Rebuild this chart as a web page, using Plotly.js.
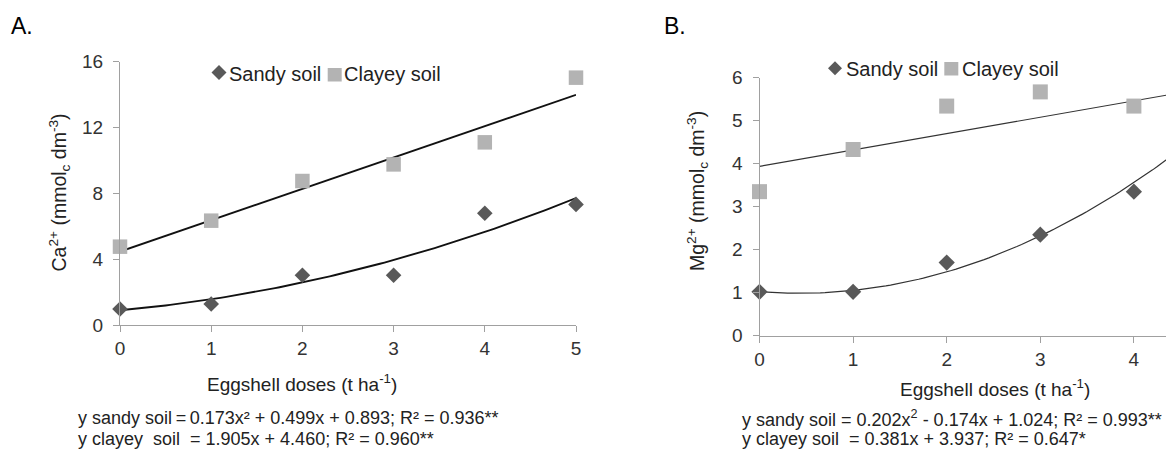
<!DOCTYPE html>
<html>
<head>
<meta charset="utf-8">
<script src="https://cdn.plot.ly/plotly-3.0.1.min.js"></script>
<style>
html,body{margin:0;padding:0;background:#fff;}
#chart{width:1166px;height:449px;}
</style>
</head>
<body>
<div id="chart"></div>
<script>
// ---------------- data ----------------
const dosesA = [0, 1, 2, 3, 4, 5];
const caSandy = [0.97, 1.28, 3.02, 3.02, 6.79, 7.33];
const caClayey = [4.76, 6.34, 8.75, 9.76, 11.10, 15.03];

const dosesB = [0, 1, 2, 3, 4];
const mgSandy = [1.02, 1.02, 1.70, 2.35, 3.35];
const mgClayey = [3.35, 4.33, 5.34, 5.67, 5.34];

// regression coefficients printed under each panel: [a, b, c] for a*x^2 + b*x + c
const fitCaSandy = [0.173, 0.499, 0.893];
const fitCaClayey = [0, 1.905, 4.460];
const fitMgSandy = [0.202, -0.174, 1.024];
const fitMgClayey = [0, 0.381, 3.937];

const ticksA_y = [0, 4, 8, 12, 16];
const ticksA_x = [0, 1, 2, 3, 4, 5];
const ticksB_y = [0, 1, 2, 3, 4, 5, 6];
const ticksB_x = [0, 1, 2, 3, 4, 5];

const seriesNames = ['Sandy soil', 'Clayey soil'];
const xTitle = 'Eggshell doses (t ha<sup>-1</sup>)';
const yTitleA = 'Ca<sup>2+</sup> (mmol<sub>c</sub> dm<sup>-3</sup>)';
const yTitleB = 'Mg<sup>2+</sup> (mmol<sub>c</sub> dm<sup>-3</sup>)';
const eqA = ['y sandy soil\u2009=\u20090.173x² + 0.499x + 0.893; R² = 0.936**',
             'y clayey\u00a0 soil \u00a0= 1.905x + 4.460; R² = 0.960**'];
const eqB = ['y sandy soil = 0.202x<sup>2</sup> - 0.174x + 1.024; R² = 0.993**',
             'y clayey soil \u00a0= 0.381x + 3.937; R² = 0.647*'];

// ---------------- helpers ----------------
const W = 1166, H = 449;
const px = v => v / W;
const py = v => 1 - v / H;
const FONT = '"Liberation Sans", Arial, Helvetica, sans-serif';

function fitCurve(coef, x0, x1, n) {
  const xs = [], ys = [];
  for (let i = 0; i <= n; i++) {
    const x = x0 + (x1 - x0) * i / n;
    xs.push(x);
    ys.push(coef[0] * x * x + coef[1] * x + coef[2]);
  }
  return {x: xs, y: ys};
}

const cDark = '#595959', cLight = '#b3b3b3';

const fA1 = fitCurve(fitCaSandy, 0, 5, 100);
const fA2 = fitCurve(fitCaClayey, 0, 5, 100);
const fB1 = fitCurve(fitMgSandy, 0, 5, 100);
const fB2 = fitCurve(fitMgClayey, 0, 5, 100);

const traces = [
  {x: fA2.x, y: fA2.y, xaxis: 'x', yaxis: 'y', mode: 'lines', line: {color: '#111111', width: 1.9}, showlegend: false, hoverinfo: 'skip'},
  {x: fA1.x, y: fA1.y, xaxis: 'x', yaxis: 'y', mode: 'lines', line: {color: '#111111', width: 1.9}, showlegend: false, hoverinfo: 'skip'},
  {x: dosesA, y: caClayey, xaxis: 'x', yaxis: 'y', mode: 'markers', name: seriesNames[1], cliponaxis: false,
   marker: {symbol: 'square', size: 14.5, color: cLight}, showlegend: false},
  {x: dosesA, y: caSandy, xaxis: 'x', yaxis: 'y', mode: 'markers', name: seriesNames[0], cliponaxis: false,
   marker: {symbol: 'diamond', size: 12, color: cDark}, showlegend: false},

  {x: fB2.x, y: fB2.y, xaxis: 'x2', yaxis: 'y2', mode: 'lines', line: {color: '#333333', width: 1.2}, showlegend: false, hoverinfo: 'skip'},
  {x: fB1.x, y: fB1.y, xaxis: 'x2', yaxis: 'y2', mode: 'lines', line: {color: '#333333', width: 1.2}, showlegend: false, hoverinfo: 'skip'},
  {x: dosesB, y: mgClayey, xaxis: 'x2', yaxis: 'y2', mode: 'markers', name: seriesNames[1], cliponaxis: false,
   marker: {symbol: 'square', size: 15, color: cLight}, showlegend: false},
  {x: dosesB, y: mgSandy, xaxis: 'x2', yaxis: 'y2', mode: 'markers', name: seriesNames[0], cliponaxis: false,
   marker: {symbol: 'diamond', size: 12.5, color: cDark}, showlegend: false}
];

const axisCommon = {
  showgrid: false, zeroline: false, showline: true, linecolor: '#a0a0a0', linewidth: 1,
  ticks: 'outside', ticklen: 6, tickcolor: '#a0a0a0', tickwidth: 1,
  tickfont: {family: FONT, size: 19, color: '#333333'}, fixedrange: true
};

const ann = (text, x, y, size, extra) => Object.assign({
  text: text, x: px(x), y: py(y), xref: 'paper', yref: 'paper',
  xanchor: 'left', yanchor: 'middle', showarrow: false,
  font: {family: FONT, size: size, color: '#222'}
}, extra || {});

const layout = {
  width: W, height: H,
  margin: {l: 0, r: 0, t: 0, b: 0},
  paper_bgcolor: '#ffffff', plot_bgcolor: 'rgba(0,0,0,0)',
  showlegend: false,
  xaxis: Object.assign({}, axisCommon, {
    domain: [px(120), px(576)], range: [0, 5], tickvals: ticksA_x, anchor: 'y'
  }),
  yaxis: Object.assign({}, axisCommon, {
    domain: [py(325), py(61.7)], range: [0, 16], tickvals: ticksA_y, anchor: 'x',
    ticklabelstandoff: 6
  }),
  xaxis2: Object.assign({}, axisCommon, {
    domain: [px(759.5), 1], range: [0, (W - 759.5) / 93.6], tickvals: ticksB_x, anchor: 'y2'
  }),
  yaxis2: Object.assign({}, axisCommon, {
    domain: [py(335.7), py(77.7)], range: [0, 6], tickvals: ticksB_y, anchor: 'x2',
    ticklabelstandoff: 6
  }),
  shapes: [
    // legend symbols
    {type: 'path', xref: 'paper', yref: 'paper', line: {width: 0}, fillcolor: cDark,
     path: `M ${px(211.5)} ${py(72.5)} L ${px(219)} ${py(65)} L ${px(226.5)} ${py(72.5)} L ${px(219)} ${py(80)} Z`},
    {type: 'rect', xref: 'paper', yref: 'paper', line: {width: 0}, fillcolor: cLight,
     x0: px(327.7), x1: px(341.7), y0: py(81.5), y1: py(68)},
    {type: 'path', xref: 'paper', yref: 'paper', line: {width: 0}, fillcolor: cDark,
     path: `M ${px(828)} ${py(68.3)} L ${px(835)} ${py(61.3)} L ${px(842)} ${py(68.3)} L ${px(835)} ${py(75.3)} Z`},
    {type: 'rect', xref: 'paper', yref: 'paper', line: {width: 0}, fillcolor: cLight,
     x0: px(944.3), x1: px(958.3), y0: py(75.5), y1: py(62)}
  ],
  annotations: [
    ann('A.', 9, 26, 23, {font: {family: FONT, size: 23, color: '#000'}}),
    ann('B.', 661.5, 26.5, 23, {font: {family: FONT, size: 23, color: '#000'}}),
    ann(seriesNames[0], 227, 74, 20),
    ann(seriesNames[1], 342, 74, 20),
    ann(seriesNames[0], 843.5, 69, 20),
    ann(seriesNames[1], 959.5, 69, 20),
    // axis titles
    ann(xTitle, 301.5, 383, 19, {xanchor: 'center'}),
    ann(xTitle, 995, 388, 19, {xanchor: 'center'}),
    ann(yTitleA, 59, 192.5, 19.5, {xanchor: 'center', textangle: -90}),
    ann(yTitleB, 697, 191, 19.5, {xanchor: 'center', textangle: -90}),
    // regression equations
    ann(eqA[0], 75.5, 418, 18),
    ann(eqA[1], 75.5, 438.5, 18),
    ann(eqB[0], 739.5, 418.5, 18),
    ann(eqB[1], 739.5, 439, 18)
  ]
};

Plotly.newPlot('chart', traces, layout, {displayModeBar: false, staticPlot: true});
</script>
</body>
</html>
